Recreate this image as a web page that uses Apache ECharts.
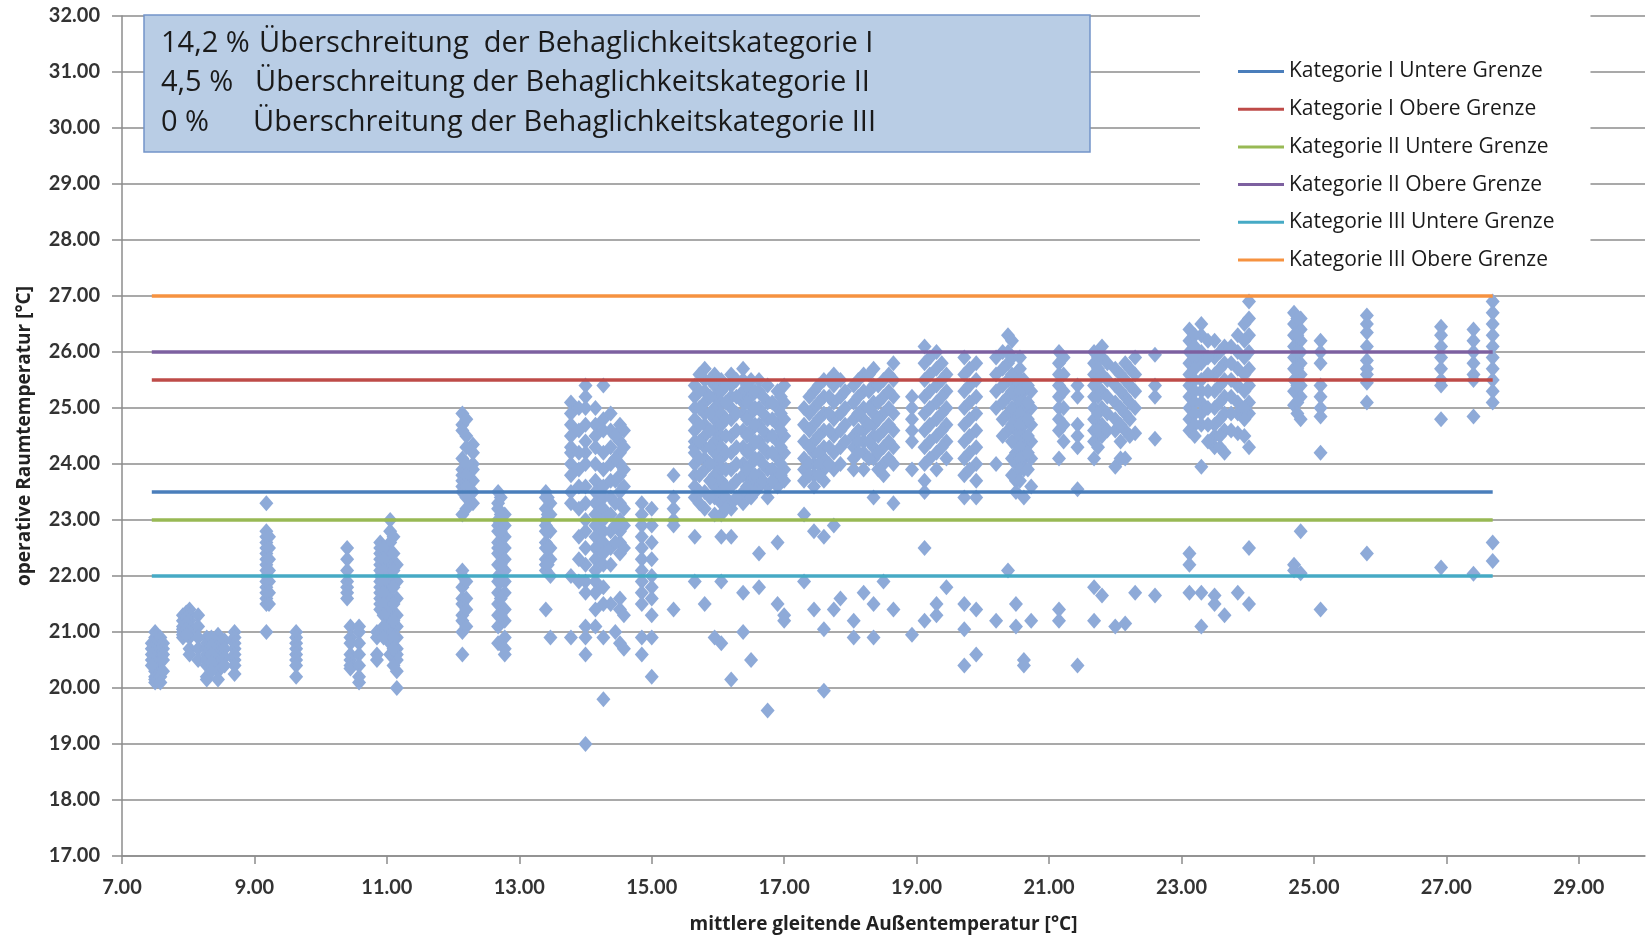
<!DOCTYPE html>
<html>
<head>
<meta charset="utf-8">
<script src="https://cdn.jsdelivr.net/npm/echarts@6/dist/echarts.min.js"></script>
<style>
html,body{margin:0;padding:0;background:#ffffff;}
#chart{width:1648px;height:939px;}
</style>
</head>
<body>
<div id="chart"></div>
<script>
// ---------- data ----------
const xTicks = [7, 9, 11, 13, 15, 17, 19, 21, 23, 25, 27, 29];
const yTicks = [17, 18, 19, 20, 21, 22, 23, 24, 25, 26, 27, 28, 29, 30, 31, 32];

// mean running outdoor temperature of each day (x) and hourly operative room temperatures (y)
const dayX = [
  7.50, 7.58, 7.92, 8.02, 8.15, 8.28, 8.45, 8.70, 9.18, 9.63,
  10.40, 10.45, 10.58, 10.90, 10.85, 11.05, 11.15, 12.14, 12.30, 12.68,
  12.78, 13.40, 13.47, 13.78, 14.00, 14.15, 14.27, 14.52, 14.58, 14.85,
  15.00, 15.33, 15.65, 15.80, 15.95, 16.05, 16.20, 16.38, 16.50, 16.62,
  16.75, 16.90, 17.00, 17.30, 17.45, 17.60, 17.75, 17.85, 18.05, 18.20,
  18.35, 18.50, 18.65, 18.93, 19.12, 19.30, 19.45, 19.72, 19.90, 20.20,
  20.38, 20.50, 20.62, 20.73, 21.15, 21.43, 21.68, 21.80, 22.00, 22.15,
  22.30, 22.60, 23.12, 23.30, 23.50, 23.65, 23.85, 24.02, 24.70, 24.80,
  25.10, 25.80, 26.92, 27.41, 27.70,
  7.45, 7.62, 7.97, 8.35, 8.55, 9.22, 10.95, 11.10, 12.20, 12.72,
  13.43, 13.90, 14.38, 14.45, 15.72, 15.88, 16.12, 16.28, 16.44, 16.56,
  16.68, 16.82, 16.95, 17.38, 17.52, 17.68, 17.92, 18.12, 18.28, 18.42,
  18.58, 19.20, 19.38, 19.80, 20.30, 20.44, 20.56, 20.68, 21.22, 21.74,
  21.88, 22.08, 22.22, 23.20, 23.40, 23.58, 23.75, 23.95, 24.75
];
const dayY = [
  [21.0, 20.9, 20.8, 20.75, 20.7, 20.65, 20.6, 20.55, 20.5, 20.45, 20.4, 20.3, 20.2, 20.15, 20.1],
  [20.9, 20.7, 20.6, 20.5, 20.2, 20.1],
  [21.3, 21.2, 21.1, 21.05, 21.0, 20.95, 20.9],
  [21.4, 21.3, 21.2, 21.1, 21.0, 20.9, 20.7, 20.6],
  [21.3, 21.1, 20.9, 20.7, 20.5],
  [20.9, 20.8, 20.7, 20.6, 20.5, 20.4, 20.2, 20.15],
  [20.95, 20.8, 20.7, 20.6, 20.5, 20.4, 20.3, 20.15],
  [21.0, 20.9, 20.8, 20.7, 20.6, 20.5, 20.4, 20.25],
  [23.3, 22.8, 22.7, 22.6, 22.5, 22.4, 22.3, 22.2, 22.1, 22.0, 21.9, 21.8, 21.7, 21.6, 21.5, 21.0],
  [21.0, 20.9, 20.8, 20.7, 20.6, 20.5, 20.4, 20.2],
  [22.5, 22.3, 22.1, 21.9, 21.8, 21.7, 21.6],
  [21.1, 20.9, 20.8, 20.6, 20.5, 20.4, 20.35],
  [21.1, 21.0, 20.8, 20.6, 20.4, 20.2, 20.1],
  [22.6, 22.5, 22.4, 22.3, 22.2, 22.1, 22.0, 21.9, 21.8, 21.7, 21.6, 21.5, 21.4],
  [21.0, 20.9, 20.6, 20.5],
  [23.0, 22.8, 22.6, 22.4, 22.2, 22.0, 21.8, 21.6, 21.4, 21.2, 21.0, 20.8, 20.6],
  [22.2, 21.9, 21.6, 21.3, 21.1, 20.9, 20.7, 20.6, 20.5, 20.3, 20.0],
  [24.9, 24.7, 24.6, 24.1, 23.9, 23.8, 23.7, 23.6, 23.5, 23.1, 22.1, 22.0, 21.8, 21.6, 21.5, 21.3, 21.2, 21.0, 20.6],
  [24.35, 24.2, 24.0, 23.9, 23.7, 23.5, 23.3],
  [23.5, 23.3, 23.2, 23.0, 22.9, 22.8, 22.6, 22.5, 22.4, 22.2, 22.0, 21.9, 21.7, 21.5, 21.3, 21.1, 20.8],
  [23.1, 22.9, 22.7, 22.5, 22.3, 22.1, 21.9, 21.7, 21.4, 21.2, 20.9, 20.7, 20.6],
  [23.5, 23.4, 23.2, 23.0, 22.9, 22.8, 22.6, 22.5, 22.3, 22.2, 22.1, 21.4],
  [23.3, 23.1, 22.8, 22.5, 22.3, 22.0, 20.9],
  [25.1, 24.9, 24.7, 24.5, 24.3, 24.2, 24.0, 23.8, 23.5, 23.3, 22.0, 20.9],
  [25.4, 25.2, 25.0, 24.7, 24.4, 24.2, 24.0, 23.6, 23.3, 23.0, 22.8, 22.5, 22.2, 21.9, 21.7, 21.1, 20.9, 20.6, 19.0],
  [25.0, 24.7, 24.5, 24.3, 24.0, 23.7, 23.5, 23.3, 23.1, 22.9, 22.7, 22.5, 22.3, 22.1, 21.9, 21.7, 21.4, 21.1],
  [25.4, 24.8, 24.6, 24.2, 23.9, 23.6, 23.4, 23.2, 23.0, 22.8, 22.6, 22.4, 22.2, 21.8, 21.5, 20.9, 19.8],
  [24.7, 24.6, 24.4, 24.2, 24.0, 23.8, 23.5, 23.3, 23.0, 22.8, 22.6, 22.4, 21.6, 21.4, 20.8],
  [24.6, 24.3, 23.9, 23.6, 23.2, 22.9, 22.5, 21.3, 20.7],
  [23.3, 23.1, 22.9, 22.7, 22.5, 22.3, 22.1, 21.9, 21.7, 21.5, 20.9, 20.6],
  [23.2, 22.9, 22.6, 22.3, 22.0, 21.8, 21.6, 21.3, 20.9, 20.2],
  [23.8, 23.4, 23.2, 23.0, 22.9, 21.4],
  [25.4, 25.2, 25.0, 24.8, 24.6, 24.4, 24.3, 24.2, 24.0, 23.8, 23.6, 23.4, 22.7, 21.9],
  [25.7, 25.5, 25.3, 25.1, 24.9, 24.7, 24.5, 24.3, 24.1, 23.9, 23.5, 23.2, 21.5],
  [25.6, 25.4, 25.2, 25.0, 24.8, 24.6, 24.4, 24.2, 24.0, 23.8, 23.6, 23.4, 23.1, 20.9],
  [25.5, 25.3, 25.1, 24.9, 24.7, 24.5, 24.3, 24.1, 23.9, 23.7, 23.5, 23.3, 23.1, 22.7, 21.9, 20.8],
  [25.6, 25.4, 25.2, 25.0, 24.8, 24.5, 24.2, 23.9, 23.6, 23.3, 23.2, 22.7, 20.15],
  [25.7, 25.5, 25.3, 25.1, 24.9, 24.6, 24.3, 24.0, 23.8, 23.5, 23.3, 21.0, 21.7],
  [25.5, 25.2, 24.9, 24.6, 24.3, 24.0, 23.7, 23.4, 20.5],
  [25.5, 25.3, 25.0, 24.7, 24.4, 24.1, 23.8, 23.6, 22.4, 21.8],
  [25.4, 25.1, 24.8, 24.5, 24.2, 23.9, 23.6, 23.4, 19.6],
  [25.3, 25.0, 24.7, 24.4, 24.1, 23.8, 23.6, 22.6, 21.5],
  [25.4, 25.1, 24.8, 24.5, 24.2, 23.9, 23.7, 21.2, 21.3],
  [25.0, 24.7, 24.4, 24.1, 23.9, 23.7, 23.1, 21.9],
  [25.3, 25.0, 24.7, 24.4, 24.2, 24.0, 23.8, 23.6, 22.8, 21.4],
  [25.5, 25.2, 24.9, 24.6, 24.3, 24.1, 23.9, 23.7, 22.7, 21.05, 19.95],
  [25.6, 25.4, 25.1, 24.8, 24.5, 24.2, 23.9, 22.9, 21.4],
  [25.5, 25.2, 24.9, 24.6, 24.3, 24.0, 21.6],
  [25.4, 25.1, 24.8, 24.5, 24.3, 24.1, 23.9, 21.2, 20.9],
  [25.6, 25.3, 25.0, 24.8, 24.6, 24.4, 24.2, 23.9, 21.7],
  [25.7, 25.4, 25.1, 24.9, 24.7, 24.5, 24.3, 24.1, 23.4, 21.5, 20.9],
  [25.5, 25.2, 24.9, 24.6, 24.3, 24.0, 23.8, 21.9],
  [25.8, 25.5, 25.2, 24.9, 24.6, 24.3, 24.0, 23.3, 21.4],
  [25.2, 25.0, 24.8, 24.6, 24.4, 23.9, 20.95],
  [26.1, 25.8, 25.5, 25.2, 24.9, 24.6, 24.3, 24.0, 23.7, 23.5, 22.5, 21.2],
  [26.0, 25.7, 25.4, 25.1, 24.8, 24.5, 24.2, 23.9, 21.5, 21.3],
  [25.6, 25.3, 25.0, 24.7, 24.4, 24.1, 21.8],
  [25.9, 25.6, 25.3, 25.0, 24.7, 24.4, 24.1, 23.8, 23.4, 21.5, 21.05, 20.4],
  [25.8, 25.5, 25.2, 24.9, 24.6, 24.3, 24.0, 23.7, 23.4, 21.4, 20.6],
  [25.9, 25.6, 25.3, 25.0, 24.0, 21.2],
  [26.3, 26.0, 25.8, 25.5, 25.2, 24.9, 24.6, 22.1],
  [25.6, 25.4, 25.2, 25.0, 24.8, 24.6, 24.4, 24.2, 24.0, 23.7, 23.5, 21.5, 21.1],
  [25.5, 25.3, 25.1, 24.9, 24.7, 24.5, 24.3, 24.1, 23.9, 23.4, 20.5, 20.4],
  [25.3, 25.0, 24.7, 24.4, 24.1, 23.6, 21.2],
  [26.0, 25.8, 25.6, 25.4, 25.2, 25.0, 24.8, 24.6, 24.1, 21.4, 21.2],
  [25.4, 25.2, 24.7, 24.5, 24.3, 23.55, 20.4],
  [26.0, 25.8, 25.6, 25.4, 25.2, 25.0, 24.8, 24.6, 24.4, 24.1, 21.8, 21.2],
  [26.1, 25.9, 25.6, 25.3, 25.0, 24.7, 24.5, 21.65],
  [25.7, 25.4, 25.1, 24.8, 24.6, 23.95, 21.1],
  [25.8, 25.5, 25.2, 24.9, 24.6, 24.1, 21.15],
  [25.9, 25.6, 25.3, 25.0, 24.55, 21.7],
  [25.95, 25.4, 25.2, 24.45, 21.65],
  [26.4, 26.2, 26.0, 25.8, 25.6, 25.4, 25.2, 25.0, 24.8, 24.6, 22.4, 22.2, 21.7],
  [26.5, 26.3, 26.0, 25.8, 25.5, 25.3, 25.1, 24.9, 24.7, 23.95, 21.7, 21.1],
  [26.2, 25.9, 25.6, 25.3, 25.0, 24.7, 24.5, 24.3, 21.65, 21.5],
  [26.1, 25.8, 25.5, 25.2, 24.9, 24.6, 24.2, 21.3],
  [26.3, 26.0, 25.7, 25.4, 25.1, 24.9, 24.55, 21.7],
  [26.9, 26.6, 26.3, 26.0, 25.7, 25.4, 25.1, 24.9, 24.3, 22.5, 21.5],
  [26.7, 26.5, 26.3, 26.1, 25.9, 25.7, 25.5, 25.3, 25.05, 22.2, 22.1],
  [26.6, 26.4, 26.2, 26.0, 25.8, 25.6, 25.4, 25.2, 24.8, 22.8, 22.05],
  [26.2, 26.0, 25.8, 25.4, 25.2, 25.0, 24.85, 24.2, 21.4],
  [26.65, 26.5, 26.35, 26.1, 25.85, 25.7, 25.6, 25.45, 25.1, 22.4],
  [26.45, 26.3, 26.1, 25.9, 25.7, 25.5, 25.4, 24.8, 22.15],
  [26.4, 26.2, 26.0, 25.8, 25.6, 25.5, 24.85, 22.04],
  [26.9, 26.7, 26.5, 26.3, 26.1, 25.9, 25.7, 25.5, 25.3, 25.1, 22.6, 22.27],
  // additional days
  [20.8, 20.7, 20.6, 20.5, 20.4],
  [20.8, 20.7, 20.6, 20.5, 20.3],
  [21.35, 21.25, 21.15, 21.05, 20.95],
  [20.9, 20.75, 20.6, 20.45, 20.3],
  [20.85, 20.7, 20.55, 20.4],
  [22.7, 22.5, 22.3, 22.1, 21.9, 21.7, 21.5],
  [22.5, 22.3, 22.1, 21.9, 21.7, 21.5, 21.3, 21.1, 20.9],
  [22.7, 22.4, 22.1, 21.8, 21.5, 21.2, 20.9, 20.7, 20.4],
  [24.8, 24.5, 24.3, 24.0, 23.8, 23.6, 23.4, 23.2, 21.9, 21.6, 21.4, 21.1],
  [23.4, 23.1, 22.8, 22.5, 22.2, 21.9, 21.6, 21.3],
  [23.4, 23.1, 22.8, 22.5, 22.2],
  [25.0, 24.6, 24.2, 23.9, 23.6, 23.2, 22.7, 22.3, 21.9],
  [24.9, 24.6, 24.3, 24.0, 23.7, 23.4, 23.1, 22.8, 22.5, 22.2, 21.5],
  [24.5, 24.1, 23.7, 23.3, 22.9, 22.6, 21.0],
  [25.6, 25.3, 25.0, 24.7, 24.4, 24.1, 23.8, 23.5, 23.3],
  [25.5, 25.2, 24.9, 24.6, 24.3, 24.0, 23.7, 23.4],
  [25.4, 25.1, 24.8, 24.5, 24.2, 23.9, 23.6, 23.4, 23.2],
  [25.5, 25.2, 24.9, 24.6, 24.3, 24.0, 23.7, 23.4],
  [25.4, 25.1, 24.8, 24.5, 24.2, 23.9, 23.6],
  [25.3, 25.0, 24.7, 24.4, 24.1, 23.8, 23.5],
  [25.2, 24.9, 24.6, 24.3, 24.0, 23.7],
  [25.1, 24.8, 24.5, 24.2, 23.9, 23.7],
  [25.2, 24.9, 24.6, 24.3, 24.0, 23.8],
  [25.2, 24.9, 24.6, 24.3, 24.0, 23.8],
  [25.4, 25.1, 24.8, 24.5, 24.2, 24.0, 23.8],
  [25.5, 25.2, 24.9, 24.6, 24.3, 24.0],
  [25.3, 25.0, 24.7, 24.4],
  [25.5, 25.2, 24.9, 24.6, 24.4, 24.2],
  [25.6, 25.3, 25.0, 24.7, 24.4, 24.1],
  [25.4, 25.1, 24.8, 24.5, 24.2, 23.9],
  [25.6, 25.3, 25.0, 24.7, 24.4, 24.1],
  [25.9, 25.6, 25.3, 25.0, 24.7, 24.4, 24.1],
  [25.8, 25.5, 25.2, 24.9, 24.6, 24.3],
  [25.7, 25.4, 25.1, 24.8, 24.5, 24.2, 23.9],
  [26.0, 25.7, 25.4, 25.1, 24.8, 24.5],
  [26.2, 25.9, 25.6, 25.3, 25.0, 24.7, 24.4, 24.1, 23.8],
  [25.9, 25.7, 25.5, 25.3, 25.1, 24.9, 24.7, 24.5, 24.3, 24.1, 23.9, 23.7],
  [25.4, 25.1, 24.8, 24.5, 24.2, 23.9],
  [25.9, 25.6, 25.3, 25.0, 24.7, 24.4],
  [25.9, 25.7, 25.5, 25.2, 24.9, 24.6, 24.3],
  [25.8, 25.5, 25.2, 24.9, 24.6],
  [25.6, 25.3, 25.0, 24.7, 24.4, 24.1],
  [25.7, 25.4, 25.1, 24.8, 24.5],
  [26.3, 26.1, 25.9, 25.7, 25.5, 25.3, 25.1, 24.9, 24.7, 24.5],
  [26.2, 25.9, 25.6, 25.3, 25.0, 24.7, 24.4],
  [26.0, 25.7, 25.4, 25.1, 24.8, 24.5, 24.3],
  [26.1, 25.8, 25.5, 25.2, 24.9, 24.6],
  [26.5, 26.2, 25.9, 25.6, 25.3, 25.0, 24.8, 24.5],
  [26.6, 26.3, 26.0, 25.7, 25.4, 25.1, 24.9]
];

const limitNames = [
  'Kategorie I Untere Grenze',
  'Kategorie I Obere Grenze',
  'Kategorie II Untere Grenze',
  'Kategorie II Obere Grenze',
  'Kategorie III Untere Grenze',
  'Kategorie III Obere Grenze'
];
const limitValues = [23.5, 25.5, 23.0, 26.0, 22.0, 27.0];

const notePercents = ['14,2 %', '4,5 %', '0 %'];
const noteTexts = [
  'Überschreitung  der Behaglichkeitskategorie I',
  'Überschreitung der Behaglichkeitskategorie II',
  'Überschreitung der Behaglichkeitskategorie III'
];

const xAxisName = 'mittlere gleitende Außentemperatur [°C]';
const yAxisName = 'operative Raumtemperatur [°C]';

// ---------- styles ----------
const limitColors = ['#4a7ebb', '#be4b48', '#98b954', '#7d60a0', '#46aac5', '#f69240'];
const FONT = '"Open Sans", Lato, sans-serif';
const TICKFONT = 'Lato, "Open Sans", sans-serif';

// ---------- build ----------
const points = [];
dayX.forEach((x, i) => dayY[i].forEach(y => points.push([x, y])));
const xStart = Math.min(...dayX);
const xEnd = Math.max(...dayX);

const series = [{
  type: 'scatter',
  name: 'Raumtemperatur',
  data: points,
  symbol: 'diamond',
  symbolSize: [14, 16],
  itemStyle: { color: '#8eaad8', opacity: 1 },
  z: 2,
  silent: true
}];
limitNames.forEach((n, i) => {
  series.push({
    type: 'line',
    name: n,
    data: [[xStart, limitValues[i]], [xEnd, limitValues[i]]],
    symbol: 'none',
    lineStyle: { color: limitColors[i], width: 3.5 },
    itemStyle: { color: limitColors[i] },
    z: 3,
    silent: true
  });
});

const noteY = [44, 83, 123];
const noteTextX = [259, 255, 253];
const graphicEls = [{
  type: 'rect',
  z: 100,
  shape: { x: 144, y: 15, width: 946, height: 137 },
  style: { fill: '#b9cde5', stroke: '#7394c9', lineWidth: 1.5 }
}];
notePercents.forEach((p, i) => {
  graphicEls.push({
    type: 'text', z: 101, x: 161, y: noteY[i],
    style: { text: p, font: '29px ' + FONT, fill: '#1a1a1a', textVerticalAlign: 'middle' }
  });
  graphicEls.push({
    type: 'text', z: 101, x: noteTextX[i], y: noteY[i],
    style: { text: noteTexts[i], font: '29px ' + FONT, fill: '#1a1a1a', textVerticalAlign: 'middle' }
  });
});

const axisLineStyle = { color: '#8c8c8c', width: 1.5 };
const chart = echarts.init(document.getElementById('chart'), null, { renderer: 'canvas' });
chart.setOption({
  animation: false,
  backgroundColor: '#ffffff',
  grid: { left: 122, right: 3, top: 16, bottom: 81, containLabel: false },
  xAxis: {
    type: 'value',
    min: 7, max: 30,
    name: xAxisName,
    nameLocation: 'middle',
    nameGap: 59,
    nameTextStyle: { fontFamily: FONT, fontSize: 19, fontWeight: 'bold', color: '#222' },
    axisLine: { show: true, onZero: false, lineStyle: axisLineStyle },
    axisTick: { show: true, length: 8, lineStyle: axisLineStyle, customValues: xTicks },
    axisLabel: {
      customValues: xTicks,
      formatter: v => v.toFixed(2),
      margin: 22,
      fontFamily: TICKFONT, fontSize: 20, fontWeight: 'bold', color: '#333'
    },
    splitLine: { show: false }
  },
  yAxis: {
    type: 'value',
    min: yTicks[0], max: yTicks[yTicks.length - 1], interval: 1,
    name: yAxisName,
    nameLocation: 'middle',
    nameGap: 88,
    nameTextStyle: { fontFamily: FONT, fontSize: 19, fontWeight: 'bold', color: '#222' },
    axisLine: { show: true, lineStyle: axisLineStyle },
    axisTick: { show: true, length: 10, lineStyle: axisLineStyle },
    axisLabel: {
      formatter: v => v.toFixed(2),
      margin: 22,
      fontFamily: TICKFONT, fontSize: 20, fontWeight: 'bold', color: '#333'
    },
    splitLine: { show: true, lineStyle: { color: '#8c8c8c', width: 1.5 } }
  },
  legend: {
    data: limitNames,
    orient: 'vertical',
    left: 1200, top: 8,
    padding: [53, 36, 14, 38],
    backgroundColor: '#ffffff',
    itemWidth: 46, itemHeight: 3,
    itemGap: 16.7,
    icon: 'rect',
    selectedMode: false,
    textStyle: { fontFamily: FONT, fontSize: 21, lineHeight: 20, color: '#1a1a1a' }
  },
  graphic: graphicEls,
  series: series
});
</script>
</body>
</html>
